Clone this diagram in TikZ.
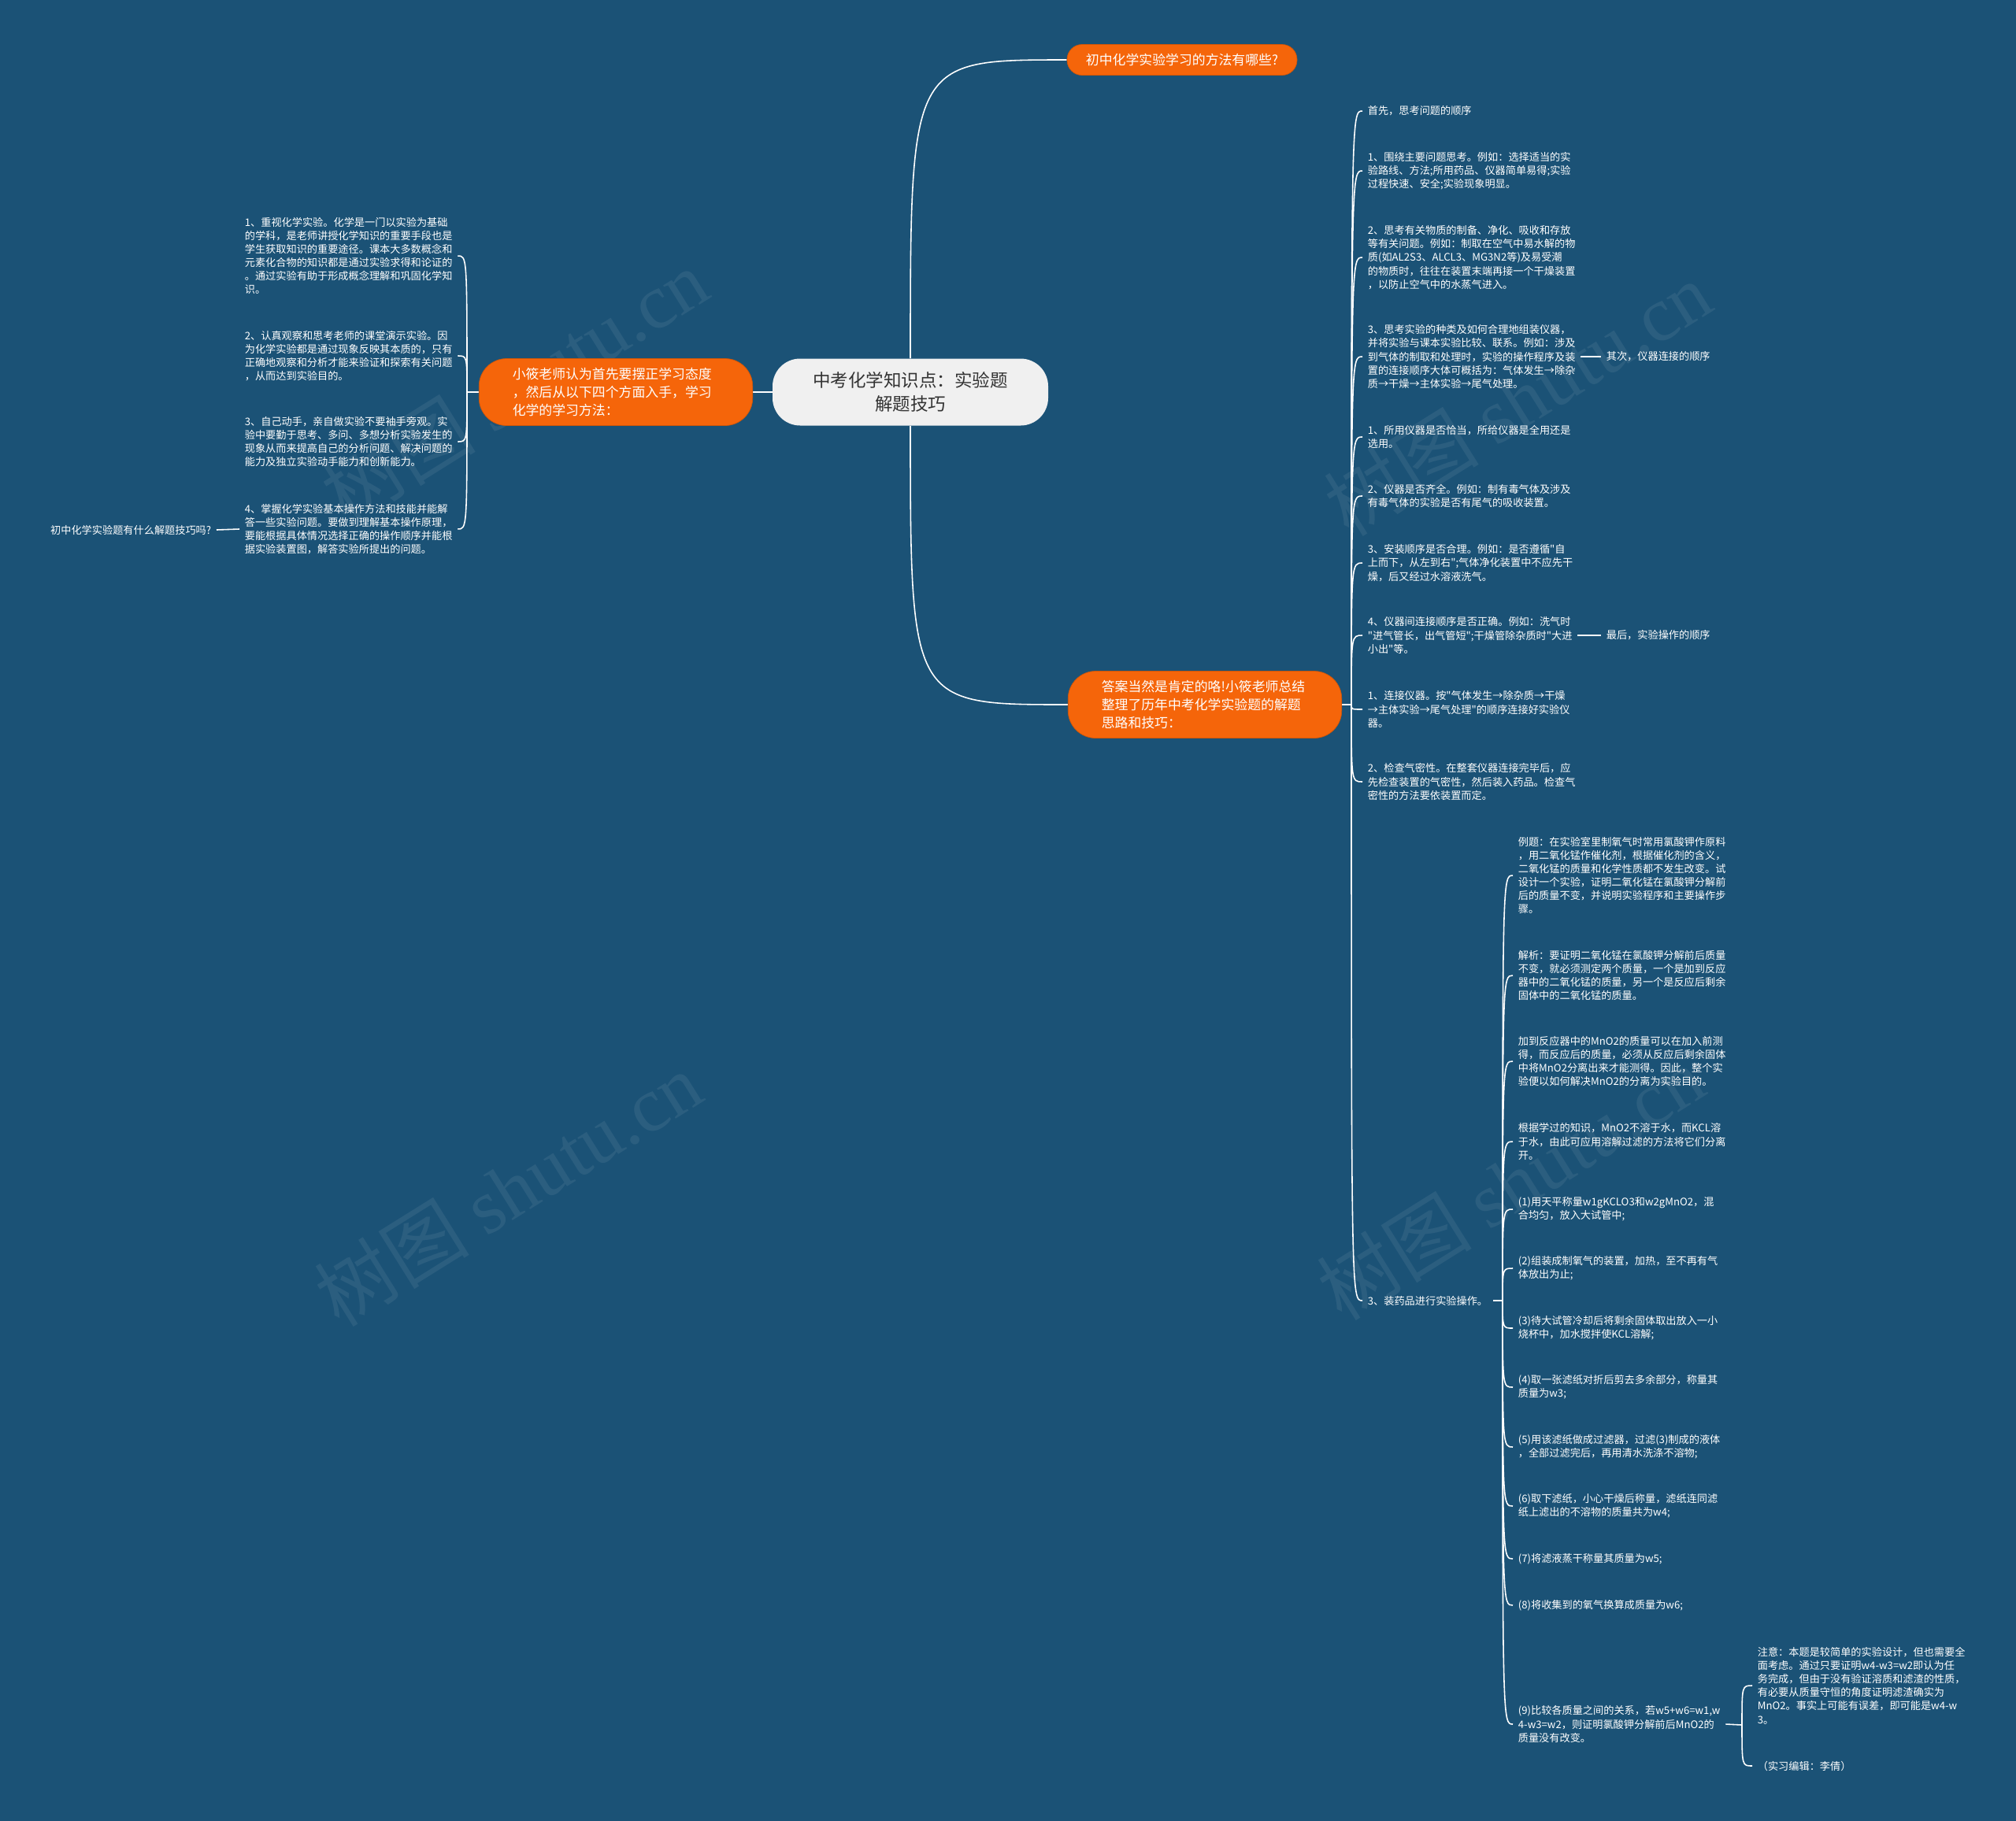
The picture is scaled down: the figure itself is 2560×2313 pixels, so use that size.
\documentclass[tikz,border=0pt]{standalone}
\usepackage{fontspec}
\setmainfont{Noto Sans CJK SC}[Ligatures=TeXOff]
\newfontfamily\wmfont{Liberation Serif}
\usepackage{tikz}
\pgfdeclarelayer{bglayer}
\pgfdeclarelayer{edgelayer}
\pgfdeclarelayer{nodelayer}
\pgfsetlayers{bglayer,edgelayer,nodelayer,main}
\definecolor{bgblue}{RGB}{27,82,118}
\definecolor{hotorange}{RGB}{245,101,10}
\definecolor{rootgray}{RGB}{240,240,240}
\tikzstyle{whiteedge}=[draw=white, line width=0.9pt]
\tikzstyle{rootnode}=[rounded corners=7mm, fill=rootgray, text=black!80, minimum width=70mm, minimum height=17mm, align=center, font=\fontsize{12.8}{17}\selectfont]
\tikzstyle{topicnode}=[rounded corners=7mm, fill=hotorange, draw=hotorange!85!black, line width=0.4pt, text=white, inner xsep=8.5mm, text width=52.5mm, minimum height=17mm, align=left, font=\fontsize{9.6}{13.2}\selectfont]
\tikzstyle{asknode}=[rounded corners=3.8mm, fill=hotorange, draw=hotorange!85!black, line width=0.4pt, text=white, minimum width=58.4mm, minimum height=7.8mm, font=\fontsize{9.6}{12}\selectfont]
\tikzstyle{leafnode}=[text=white, inner xsep=1.3mm, inner ysep=0pt, align=left, font=\fontsize{7.5}{9.75}\selectfont]
\tikzstyle{wmtext}=[text=white, opacity=0.07, rotate=32, font=\fontsize{56}{60}\selectfont]

\begin{document}
\begin{tikzpicture}[x=0.2mm, y=-0.2mm]
	\begin{pgfonlayer}{bglayer}
		\fill [bgblue] (0, 0) rectangle (2560, 2313);
		\useasboundingbox (0, 0) rectangle (2560, 2313);
		\node [style=wmtext] (38) at (653, 490) {树图 {\wmfont shutu.cn}};
		\node [style=wmtext] (39) at (1927, 506) {树图 {\wmfont shutu.cn}};
		\node [style=wmtext] (40) at (645, 1510) {树图 {\wmfont shutu.cn}};
		\node [style=wmtext] (41) at (1918, 1502) {树图 {\wmfont shutu.cn}};
	\end{pgfonlayer}
	\begin{pgfonlayer}{nodelayer}
		\node [style=rootnode] (1) at (1156, 498) {中考化学知识点：实验题\\解题技巧};
		\node [style=topicnode] (2) at (782, 498) {小筱老师认为首先要摆正学习态度\\，然后从以下四个方面入手，学习\\化学的学习方法：};
		\node [style=asknode] (3) at (1501, 76) {初中化学实验学习的方法有哪些?};
		\node [style=topicnode] (4) at (1530, 895) {答案当然是肯定的咯!小筱老师总结\\整理了历年中考化学实验题的解题\\思路和技巧：};
		% left branch
		\node [style=leafnode, anchor=west] (5) at (304, 325) {1、重视化学实验。化学是一门以实验为基础\\的学科，是老师讲授化学知识的重要手段也是\\学生获取知识的重要途径。课本大多数概念和\\元素化合物的知识都是通过实验求得和论证的\\。通过实验有助于形成概念理解和巩固化学知\\识。};
		\node [style=leafnode, anchor=west] (6) at (304, 452) {2、认真观察和思考老师的课堂演示实验。因\\为化学实验都是通过现象反映其本质的，只有\\正确地观察和分析才能来验证和探索有关问题\\，从而达到实验目的。};
		\node [style=leafnode, anchor=west] (7) at (304, 561) {3、自己动手，亲自做实验不要袖手旁观。实\\验中要勤于思考、多问、多想分析实验发生的\\现象从而来提高自己的分析问题、解决问题的\\能力及独立实验动手能力和创新能力。};
		\node [style=leafnode, anchor=west] (8) at (304, 672) {4、掌握化学实验基本操作方法和技能并能解\\答一些实验问题。要做到理解基本操作原理，\\要能根据具体情况选择正确的操作顺序并能根\\据实验装置图，解答实验所提出的问题。};
		\node [style=leafnode, anchor=east] (9) at (275, 673) {初中化学实验题有什么解题技巧吗?};
		% right branch
		\node [style=leafnode, anchor=west] (10) at (1730, 141) {首先，思考问题的顺序};
		\node [style=leafnode, anchor=west] (11) at (1730, 217) {1、围绕主要问题思考。例如：选择适当的实\\验路线、方法;所用药品、仪器简单易得;实验\\过程快速、安全;实验现象明显。};
		\node [style=leafnode, anchor=west] (12) at (1730, 327) {2、思考有关物质的制备、净化、吸收和存放\\等有关问题。例如：制取在空气中易水解的物\\质(如AL2S3、ALCL3、MG3N2等)及易受潮\\的物质时，往往在装置末端再接一个干燥装置\\，以防止空气中的水蒸气进入。};
		\node [style=leafnode, anchor=west] (13) at (1730, 453) {3、思考实验的种类及如何合理地组装仪器，\\并将实验与课本实验比较、联系。例如：涉及\\到气体的制取和处理时，实验的操作程序及装\\置的连接顺序大体可概括为：气体发生→除杂\\质→干燥→主体实验→尾气处理。};
		\node [style=leafnode, anchor=west] (14) at (2033, 453) {其次，仪器连接的顺序};
		\node [style=leafnode, anchor=west] (15) at (1730, 555) {1、所用仪器是否恰当，所给仪器是全用还是\\选用。};
		\node [style=leafnode, anchor=west] (16) at (1730, 630) {2、仪器是否齐全。例如：制有毒气体及涉及\\有毒气体的实验是否有尾气的吸收装置。};
		\node [style=leafnode, anchor=west] (17) at (1730, 715) {3、安装顺序是否合理。例如：是否遵循"自\\上而下，从左到右";气体净化装置中不应先干\\燥，后又经过水溶液洗气。};
		\node [style=leafnode, anchor=west] (18) at (1730, 807) {4、仪器间连接顺序是否正确。例如：洗气时\\"进气管长，出气管短";干燥管除杂质时"大进\\小出"等。};
		\node [style=leafnode, anchor=west] (19) at (2033, 807) {最后，实验操作的顺序};
		\node [style=leafnode, anchor=west] (20) at (1730, 901) {1、连接仪器。按"气体发生→除杂质→干燥\\→主体实验→尾气处理"的顺序连接好实验仪\\器。};
		\node [style=leafnode, anchor=west] (21) at (1730, 993) {2、检查气密性。在整套仪器连接完毕后，应\\先检查装置的气密性，然后装入药品。检查气\\密性的方法要依装置而定。};
		\node [style=leafnode, anchor=west] (22) at (1730, 1652) {3、装药品进行实验操作。};
		% steps
		\node [style=leafnode, anchor=west] (23) at (1921, 1112) {例题：在实验室里制氧气时常用氯酸钾作原料\\，用二氧化锰作催化剂，根据催化剂的含义，\\二氧化锰的质量和化学性质都不发生改变。试\\设计一个实验，证明二氧化锰在氯酸钾分解前\\后的质量不变，并说明实验程序和主要操作步\\骤。};
		\node [style=leafnode, anchor=west] (24) at (1921, 1239) {解析：要证明二氧化锰在氯酸钾分解前后质量\\不变，就必须测定两个质量，一个是加到反应\\器中的二氧化锰的质量，另一个是反应后剩余\\固体中的二氧化锰的质量。};
		\node [style=leafnode, anchor=west] (25) at (1921, 1348) {加到反应器中的MnO2的质量可以在加入前测\\得，而反应后的质量，必须从反应后剩余固体\\中将MnO2分离出来才能测得。因此，整个实\\验便以如何解决MnO2的分离为实验目的。};
		\node [style=leafnode, anchor=west] (26) at (1921, 1450) {根据学过的知识，MnO2不溶于水，而KCL溶\\于水，由此可应用溶解过滤的方法将它们分离\\开。};
		\node [style=leafnode, anchor=west] (27) at (1921, 1536) {(1)用天平称量w1gKCLO3和w2gMnO2，混\\合均匀，放入大试管中;};
		\node [style=leafnode, anchor=west] (28) at (1921, 1611) {(2)组装成制氧气的装置，加热，至不再有气\\体放出为止;};
		\node [style=leafnode, anchor=west] (29) at (1921, 1687) {(3)待大试管冷却后将剩余固体取出放入一小\\烧杯中，加水搅拌使KCL溶解;};
		\node [style=leafnode, anchor=west] (30) at (1921, 1762) {(4)取一张滤纸对折后剪去多余部分，称量其\\质量为w3;};
		\node [style=leafnode, anchor=west] (31) at (1921, 1838) {(5)用该滤纸做成过滤器，过滤(3)制成的液体\\，全部过滤完后，再用清水洗涤不溶物;};
		\node [style=leafnode, anchor=west] (32) at (1921, 1913) {(6)取下滤纸，小心干燥后称量，滤纸连同滤\\纸上滤出的不溶物的质量共为w4;};
		\node [style=leafnode, anchor=west] (33) at (1921, 1980) {(7)将滤液蒸干称量其质量为w5;};
		\node [style=leafnode, anchor=west] (34) at (1921, 2039) {(8)将收集到的氧气换算成质量为w6;};
		\node [style=leafnode, anchor=west] (35) at (1921, 2190) {(9)比较各质量之间的关系，若w5+w6=w1,w\\4-w3=w2，则证明氯酸钾分解前后MnO2的\\质量没有改变。};
		\node [style=leafnode, anchor=west] (36) at (2225, 2141) {注意：本题是较简单的实验设计，但也需要全\\面考虑。通过只要证明w4-w3=w2即认为任\\务完成，但由于没有验证溶质和滤渣的性质，\\有必要从质量守恒的角度证明滤渣确实为\\MnO2。事实上可能有误差，即可能是w4-w\\3。};
		\node [style=leafnode, anchor=west] (37) at (2225, 2243) {（实习编辑：李倩）};
		\coordinate (a) at (593, 498);
		\coordinate (b) at (1716, 895);
		\coordinate (c) at (1908, 1652);
		\coordinate (d) at (2212, 2191);
	\end{pgfonlayer}
	\begin{pgfonlayer}{edgelayer}
		\draw [style=whiteedge] (1.west) -- (2.east);
		\draw [style=whiteedge] (1.north) .. controls (1.north |- 3.west) and (1.north |- 3.west) .. (3.west);
		\draw [style=whiteedge] (1.south) .. controls (1.south |- 4.west) and (1.south |- 4.west) .. (4.west);
		\draw [style=whiteedge] (2.west) -- (a);
		\draw [style=whiteedge] (a) .. controls (a |- 5.east) .. (5.east);
		\draw [style=whiteedge] (a) .. controls (a |- 6.east) .. (6.east);
		\draw [style=whiteedge] (a) .. controls (a |- 7.east) .. (7.east);
		\draw [style=whiteedge] (a) .. controls (a |- 8.east) .. (8.east);
		\draw [style=whiteedge] (9.east) -- (8.west);
		\draw [style=whiteedge] (4.east) -- (b);
		\draw [style=whiteedge] (b) .. controls (b |- 10.west) .. (10.west);
		\draw [style=whiteedge] (b) .. controls (b |- 11.west) .. (11.west);
		\draw [style=whiteedge] (b) .. controls (b |- 12.west) .. (12.west);
		\draw [style=whiteedge] (b) .. controls (b |- 13.west) .. (13.west);
		\draw [style=whiteedge] (b) .. controls (b |- 15.west) .. (15.west);
		\draw [style=whiteedge] (b) .. controls (b |- 16.west) .. (16.west);
		\draw [style=whiteedge] (b) .. controls (b |- 17.west) .. (17.west);
		\draw [style=whiteedge] (b) .. controls (b |- 18.west) .. (18.west);
		\draw [style=whiteedge] (b) .. controls (b |- 20.west) .. (20.west);
		\draw [style=whiteedge] (b) .. controls (b |- 21.west) .. (21.west);
		\draw [style=whiteedge] (b) .. controls (b |- 22.west) .. (22.west);
		\draw [style=whiteedge] (13.east) -- (14.west);
		\draw [style=whiteedge] (18.east) -- (19.west);
		\draw [style=whiteedge] (22.east) -- (c);
		\draw [style=whiteedge] (c) .. controls (c |- 23.west) .. (23.west);
		\draw [style=whiteedge] (c) .. controls (c |- 24.west) .. (24.west);
		\draw [style=whiteedge] (c) .. controls (c |- 25.west) .. (25.west);
		\draw [style=whiteedge] (c) .. controls (c |- 26.west) .. (26.west);
		\draw [style=whiteedge] (c) .. controls (c |- 27.west) .. (27.west);
		\draw [style=whiteedge] (c) .. controls (c |- 28.west) .. (28.west);
		\draw [style=whiteedge] (c) .. controls (c |- 29.west) .. (29.west);
		\draw [style=whiteedge] (c) .. controls (c |- 30.west) .. (30.west);
		\draw [style=whiteedge] (c) .. controls (c |- 31.west) .. (31.west);
		\draw [style=whiteedge] (c) .. controls (c |- 32.west) .. (32.west);
		\draw [style=whiteedge] (c) .. controls (c |- 33.west) .. (33.west);
		\draw [style=whiteedge] (c) .. controls (c |- 34.west) .. (34.west);
		\draw [style=whiteedge] (c) .. controls (c |- 35.west) .. (35.west);
		\draw [style=whiteedge] (35.east) -- (d);
		\draw [style=whiteedge] (d) .. controls (d |- 36.west) .. (36.west);
		\draw [style=whiteedge] (d) .. controls (d |- 37.west) .. (37.west);
	\end{pgfonlayer}
\end{tikzpicture}
\end{document}
